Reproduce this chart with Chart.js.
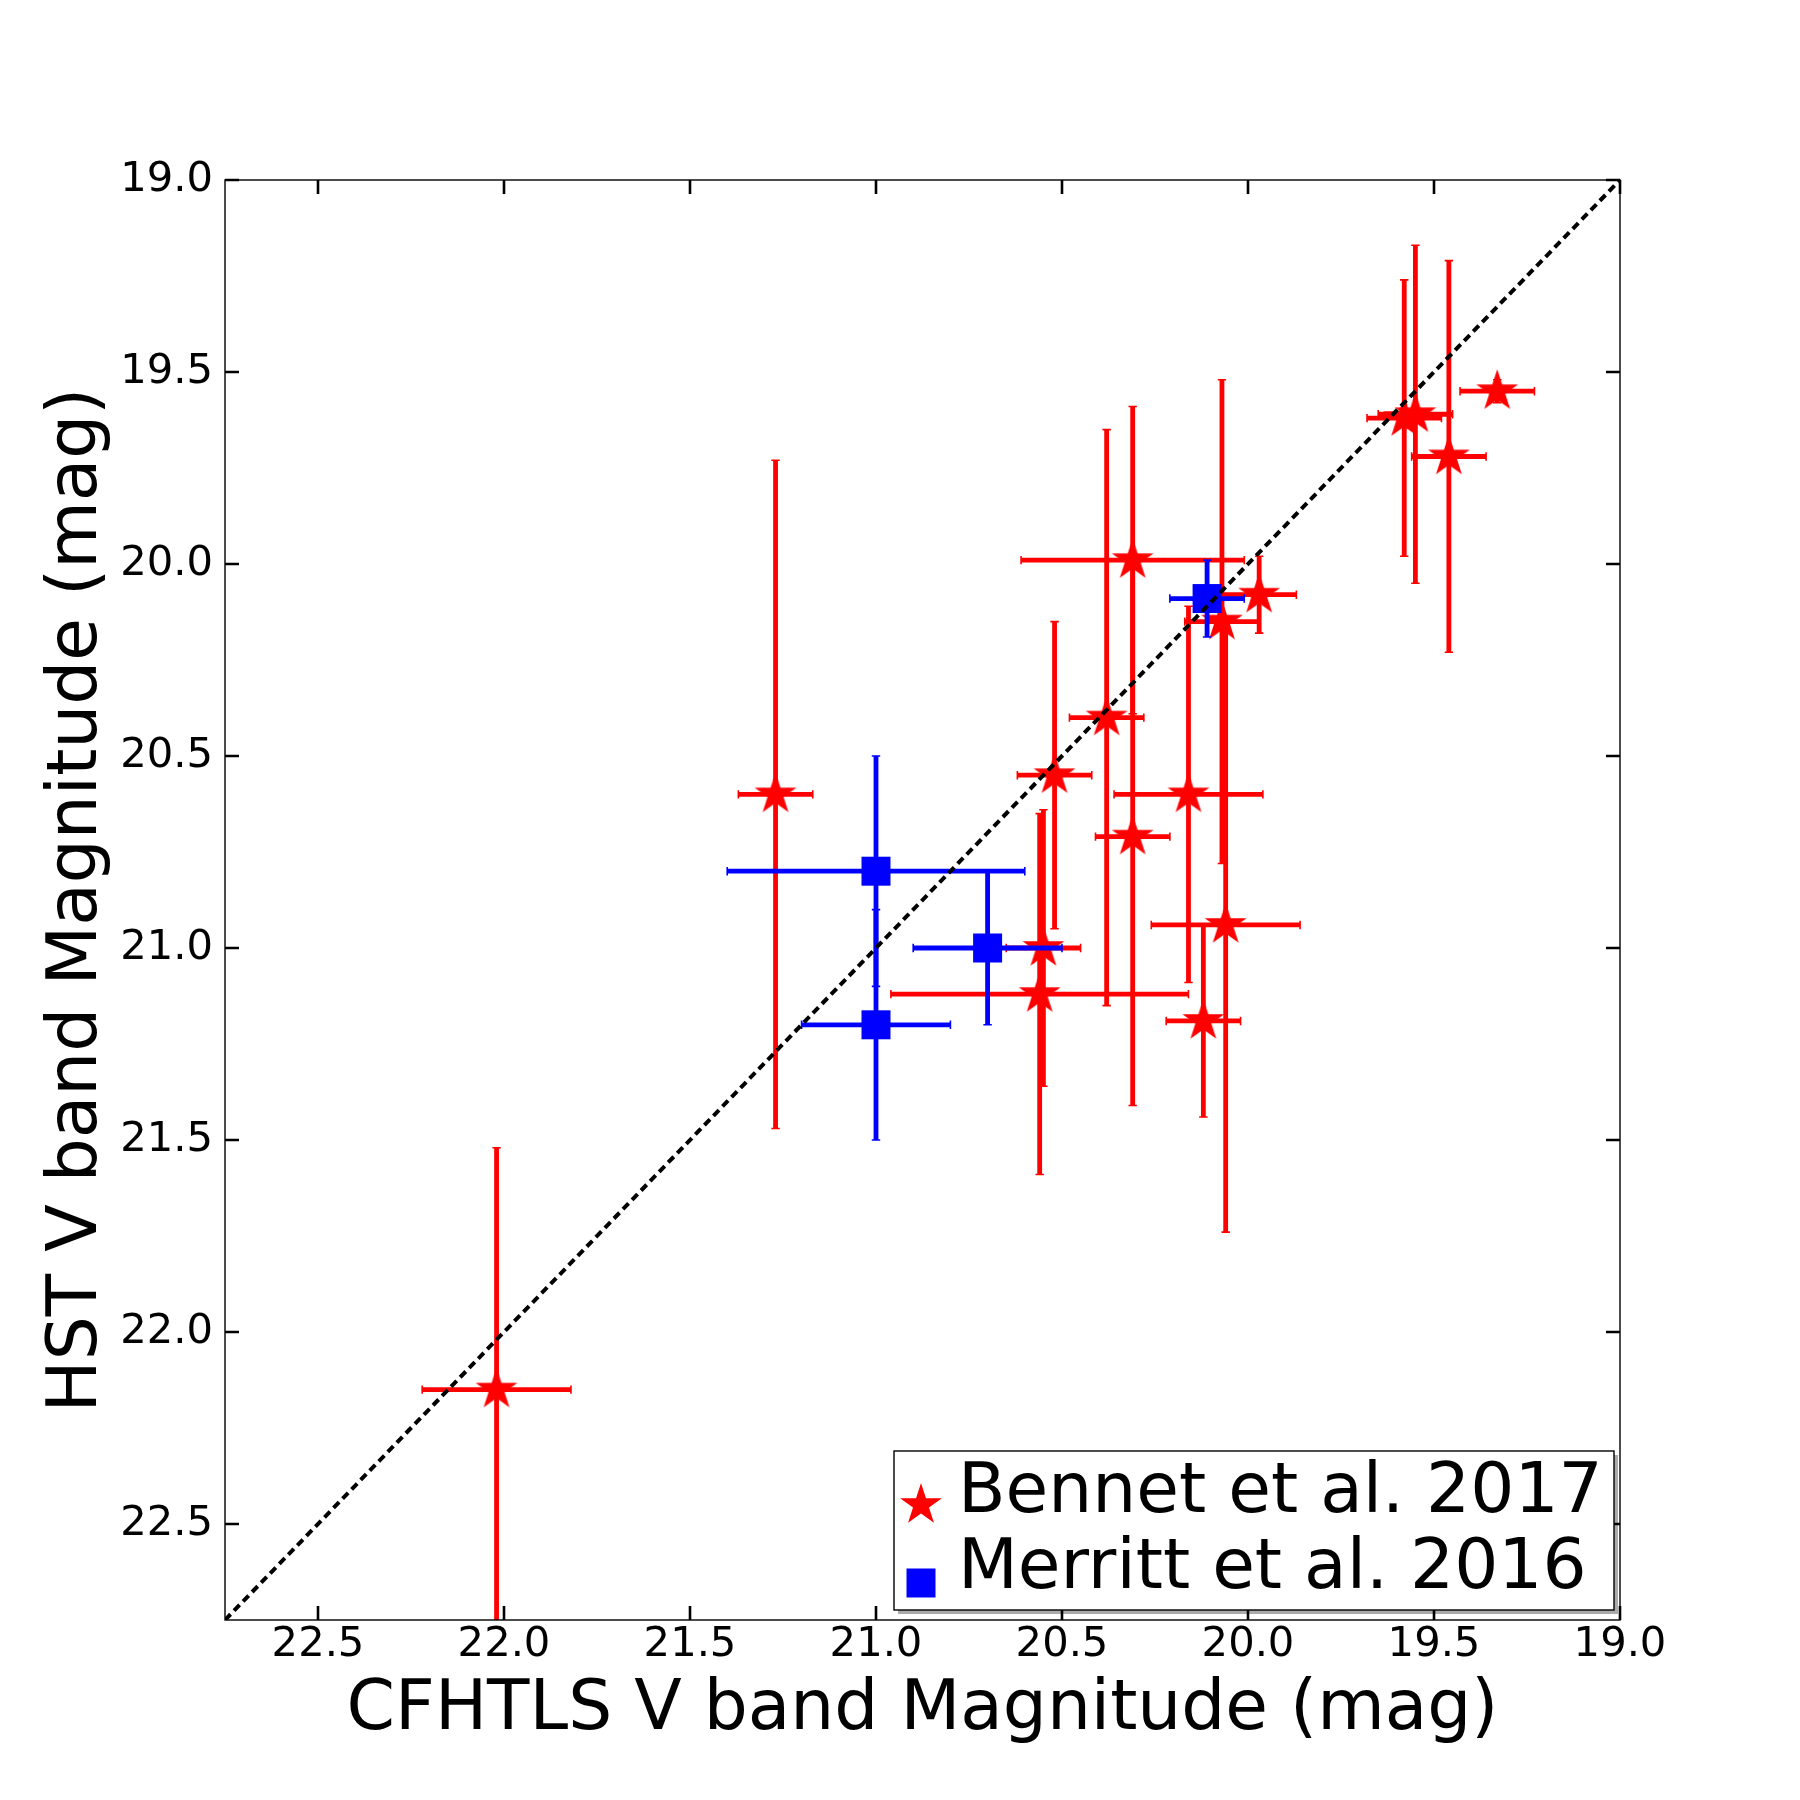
<!DOCTYPE html>
<html>
<head>
<meta charset="utf-8">
<script src="https://cdn.jsdelivr.net/npm/chart.js@4.4.1/dist/chart.umd.min.js"></script>
<style>
html, body { margin: 0; padding: 0; background: #ffffff; }
canvas { display: block; }
</style>
</head>
<body>
<canvas id="chart" width="1800" height="1800" style="width:1800px;height:1800px"></canvas>
<script>
// ---------------- data ----------------
const seriesNames = ['Bennet et al. 2017', 'Merritt et al. 2016'];

// Bennet et al. 2017 (red stars)
const bennetX    = [22.02, 21.27, 20.55, 20.56, 20.52, 20.38, 20.31, 20.31, 20.16, 20.12, 20.06, 20.07, 19.97, 19.58, 19.55, 19.46, 19.33];
const bennetY    = [22.15, 20.60, 21.00, 21.12, 20.55, 20.40, 19.99, 20.71, 20.60, 21.19, 20.94, 20.15, 20.08, 19.62, 19.61, 19.72, 19.55];
const bennetXErr = [0.20, 0.10, 0.10, 0.40, 0.10, 0.10, 0.30, 0.10, 0.20, 0.10, 0.20, 0.10, 0.10, 0.10, 0.10, 0.10, 0.10];
const bennetYErr = [0.63, 0.87, 0.36, 0.47, 0.40, 0.75, 0.40, 0.70, 0.49, 0.25, 0.80, 0.63, 0.10, 0.36, 0.44, 0.51, 0.03];

// Merritt et al. 2016 (blue squares)
const merrittX    = [21.00, 20.70, 21.00, 20.11];
const merrittY    = [20.80, 21.00, 21.20, 20.09];
const merrittXErr = [0.40, 0.20, 0.20, 0.10];
const merrittYErr = [0.30, 0.20, 0.30, 0.10];

// one-to-one reference line
const oneToOneX = [22.75, 19.0];
const oneToOneY = [22.75, 19.0];

// axes
const axisMin = 19.0;
const axisMax = 22.75;
const xTicks = [22.5, 22.0, 21.5, 21.0, 20.5, 20.0, 19.5, 19.0];
const yTicks = [19.0, 19.5, 20.0, 20.5, 21.0, 21.5, 22.0, 22.5];
const xTitle = 'CFHTLS V band Magnitude (mag)';
const yTitle = 'HST V band Magnitude (mag)';

// ---------------- styling helpers ----------------
const FONT = '"DejaVu Sans", "Liberation Sans", sans-serif';
const RED = '#ff0000';
const BLUE = '#0000ff';

function makeStar(R, color) {
  const size = Math.ceil(2 * R) + 4;
  const c = document.createElement('canvas');
  c.width = size; c.height = size;
  const g = c.getContext('2d');
  const cx = size / 2, cy = size / 2, r = R * 0.381966;
  g.beginPath();
  for (let k = 0; k < 10; k++) {
    const rad = (k % 2 === 0) ? R : r;
    const a = -Math.PI / 2 + k * Math.PI / 5;
    const px = cx + rad * Math.cos(a), py = cy + rad * Math.sin(a);
    if (k === 0) g.moveTo(px, py); else g.lineTo(px, py);
  }
  g.closePath();
  g.fillStyle = color;
  g.fill();
  return c;
}
const starImg = makeStar(22, RED);

const toPoints = (xs, ys) => xs.map((v, i) => ({ x: v, y: ys[i] }));

// ---------------- plugins ----------------
const errorBarPlugin = {
  id: 'errorBars',
  beforeDatasetDraw(chart, args) {
    const ds = chart.data.datasets[args.index];
    if (!ds.errX) return;
    const { ctx, chartArea: a, scales: { x, y } } = chart;
    ctx.save();
    ctx.beginPath();
    ctx.rect(a.left, a.top, a.right - a.left, a.bottom - a.top);
    ctx.clip();
    ctx.strokeStyle = ds.errColor;
    ds.data.forEach((p, i) => {
      const cx = x.getPixelForValue(p.x), cy = y.getPixelForValue(p.y);
      const x0 = x.getPixelForValue(p.x - ds.errX[i]), x1 = x.getPixelForValue(p.x + ds.errX[i]);
      const y0 = y.getPixelForValue(p.y - ds.errY[i]), y1 = y.getPixelForValue(p.y + ds.errY[i]);
      ctx.lineWidth = 4.8;
      ctx.lineCap = 'butt';
      ctx.beginPath();
      ctx.moveTo(x0, cy); ctx.lineTo(x1, cy);
      ctx.moveTo(cx, y0); ctx.lineTo(cx, y1);
      ctx.stroke();
      ctx.lineWidth = 1.6;
      ctx.beginPath();
      [x0, x1].forEach(xx => { ctx.moveTo(xx, cy - 4.2); ctx.lineTo(xx, cy + 4.2); });
      [y0, y1].forEach(yy => { ctx.moveTo(cx - 4.2, yy); ctx.lineTo(cx + 4.2, yy); });
      ctx.stroke();
    });
    ctx.restore();
  }
};

const framePlugin = {
  id: 'frameTicks',
  afterDatasetsDraw(chart) {
    const { ctx, chartArea: a, scales: { x, y } } = chart;
    ctx.save();
    ctx.strokeStyle = '#000';
    ctx.lineWidth = 1.4;
    ctx.strokeRect(a.left, a.top, a.right - a.left, a.bottom - a.top);
    ctx.lineWidth = 2.6;
    ctx.beginPath();
    const L = 14;
    x.ticks.forEach(t => {
      const px = x.getPixelForValue(t.value);
      ctx.moveTo(px, a.bottom); ctx.lineTo(px, a.bottom - L);
      ctx.moveTo(px, a.top); ctx.lineTo(px, a.top + L);
    });
    y.ticks.forEach(t => {
      const py = y.getPixelForValue(t.value);
      ctx.moveTo(a.left, py); ctx.lineTo(a.left + L, py);
      ctx.moveTo(a.right, py); ctx.lineTo(a.right - L, py);
    });
    ctx.stroke();
    ctx.restore();
  },
  afterDraw(chart) {
    // legend (matplotlib style, lower right)
    const { ctx } = chart;
    const bx = 894, by = 1451, bw = 720, bh = 159;
    ctx.save();
    ctx.fillStyle = 'rgba(0,0,0,0.33)';
    ctx.fillRect(bx + 4, by + 4, bw, bh);
    ctx.fillStyle = '#fff';
    ctx.fillRect(bx, by, bw, bh);
    ctx.strokeStyle = '#000';
    ctx.lineWidth = 1.4;
    ctx.strokeRect(bx, by, bw, bh);
    const redDs = chart.data.datasets.find(d => d.id === 'bennet');
    const blueDs = chart.data.datasets.find(d => d.id === 'merritt');
    ctx.drawImage(starImg, 921 - starImg.width / 2, 1505 - starImg.height / 2);
    ctx.fillStyle = BLUE;
    ctx.fillRect(921 - 14.5, 1583 - 14.5, 29, 29);
    ctx.fillStyle = '#000';
    ctx.font = '69.4px ' + FONT;
    ctx.textAlign = 'left';
    ctx.textBaseline = 'alphabetic';
    ctx.fillText(redDs.label, 958, 1512);
    ctx.fillText(blueDs.label, 958, 1588);
    ctx.restore();
  }
};

// ---------------- chart ----------------
new Chart(document.getElementById('chart'), {
  type: 'scatter',
  data: {
    datasets: [
      {
        id: 'line',
        label: 'one-to-one',
        data: toPoints(oneToOneX, oneToOneY),
        showLine: true,
        borderColor: '#000',
        borderWidth: 4,
        borderDash: [8, 5],
        pointRadius: 0,
        fill: false,
        order: 0
      },
      {
        id: 'merritt',
        label: seriesNames[1],
        data: toPoints(merrittX, merrittY),
        errX: merrittXErr,
        errY: merrittYErr,
        errColor: BLUE,
        pointStyle: 'rect',
        pointRadius: 20.5,
        backgroundColor: BLUE,
        borderColor: BLUE,
        borderWidth: 0,
        order: 1
      },
      {
        id: 'bennet',
        label: seriesNames[0],
        data: toPoints(bennetX, bennetY),
        errX: bennetXErr,
        errY: bennetYErr,
        errColor: RED,
        pointStyle: starImg,
        pointRadius: 20,
        backgroundColor: RED,
        borderWidth: 0,
        order: 2
      }
    ]
  },
  options: {
    responsive: false,
    devicePixelRatio: 1,
    animation: false,
    events: [],
    layout: { padding: { top: 180, right: 180, left: 0, bottom: 0 } },
    plugins: { legend: { display: false }, tooltip: { enabled: false } },
    scales: {
      x: {
        type: 'linear',
        position: 'bottom',
        min: axisMin,
        max: axisMax,
        reverse: true,
        afterBuildTicks: s => { s.ticks = xTicks.map(v => ({ value: v })); },
        afterFit: s => { s.height = 180; },
        grid: { display: false, drawTicks: false },
        border: { display: false },
        ticks: {
          padding: 0,
          color: '#000',
          maxRotation: 0,
          autoSkip: false,
          font: { family: FONT, size: 41.67 },
          callback: v => Number(v).toFixed(1)
        },
        title: {
          display: true,
          text: xTitle,
          color: '#000',
          font: { family: FONT, size: 69.4 },
          padding: { top: 0, bottom: 47 }
        }
      },
      y: {
        type: 'linear',
        position: 'left',
        min: axisMin,
        max: axisMax,
        reverse: true,
        afterBuildTicks: s => { s.ticks = yTicks.map(v => ({ value: v })); },
        afterFit: s => { s.width = 225; },
        grid: { display: false, drawTicks: false },
        border: { display: false },
        ticks: {
          padding: 12,
          color: '#000',
          autoSkip: false,
          font: { family: FONT, size: 41.67 },
          callback: v => Number(v).toFixed(1)
        },
        title: {
          display: true,
          text: yTitle,
          color: '#000',
          font: { family: FONT, size: 69.4 },
          padding: { top: 36, bottom: 0 }
        }
      }
    }
  },
  plugins: [errorBarPlugin, framePlugin]
});
</script>
</body>
</html>
